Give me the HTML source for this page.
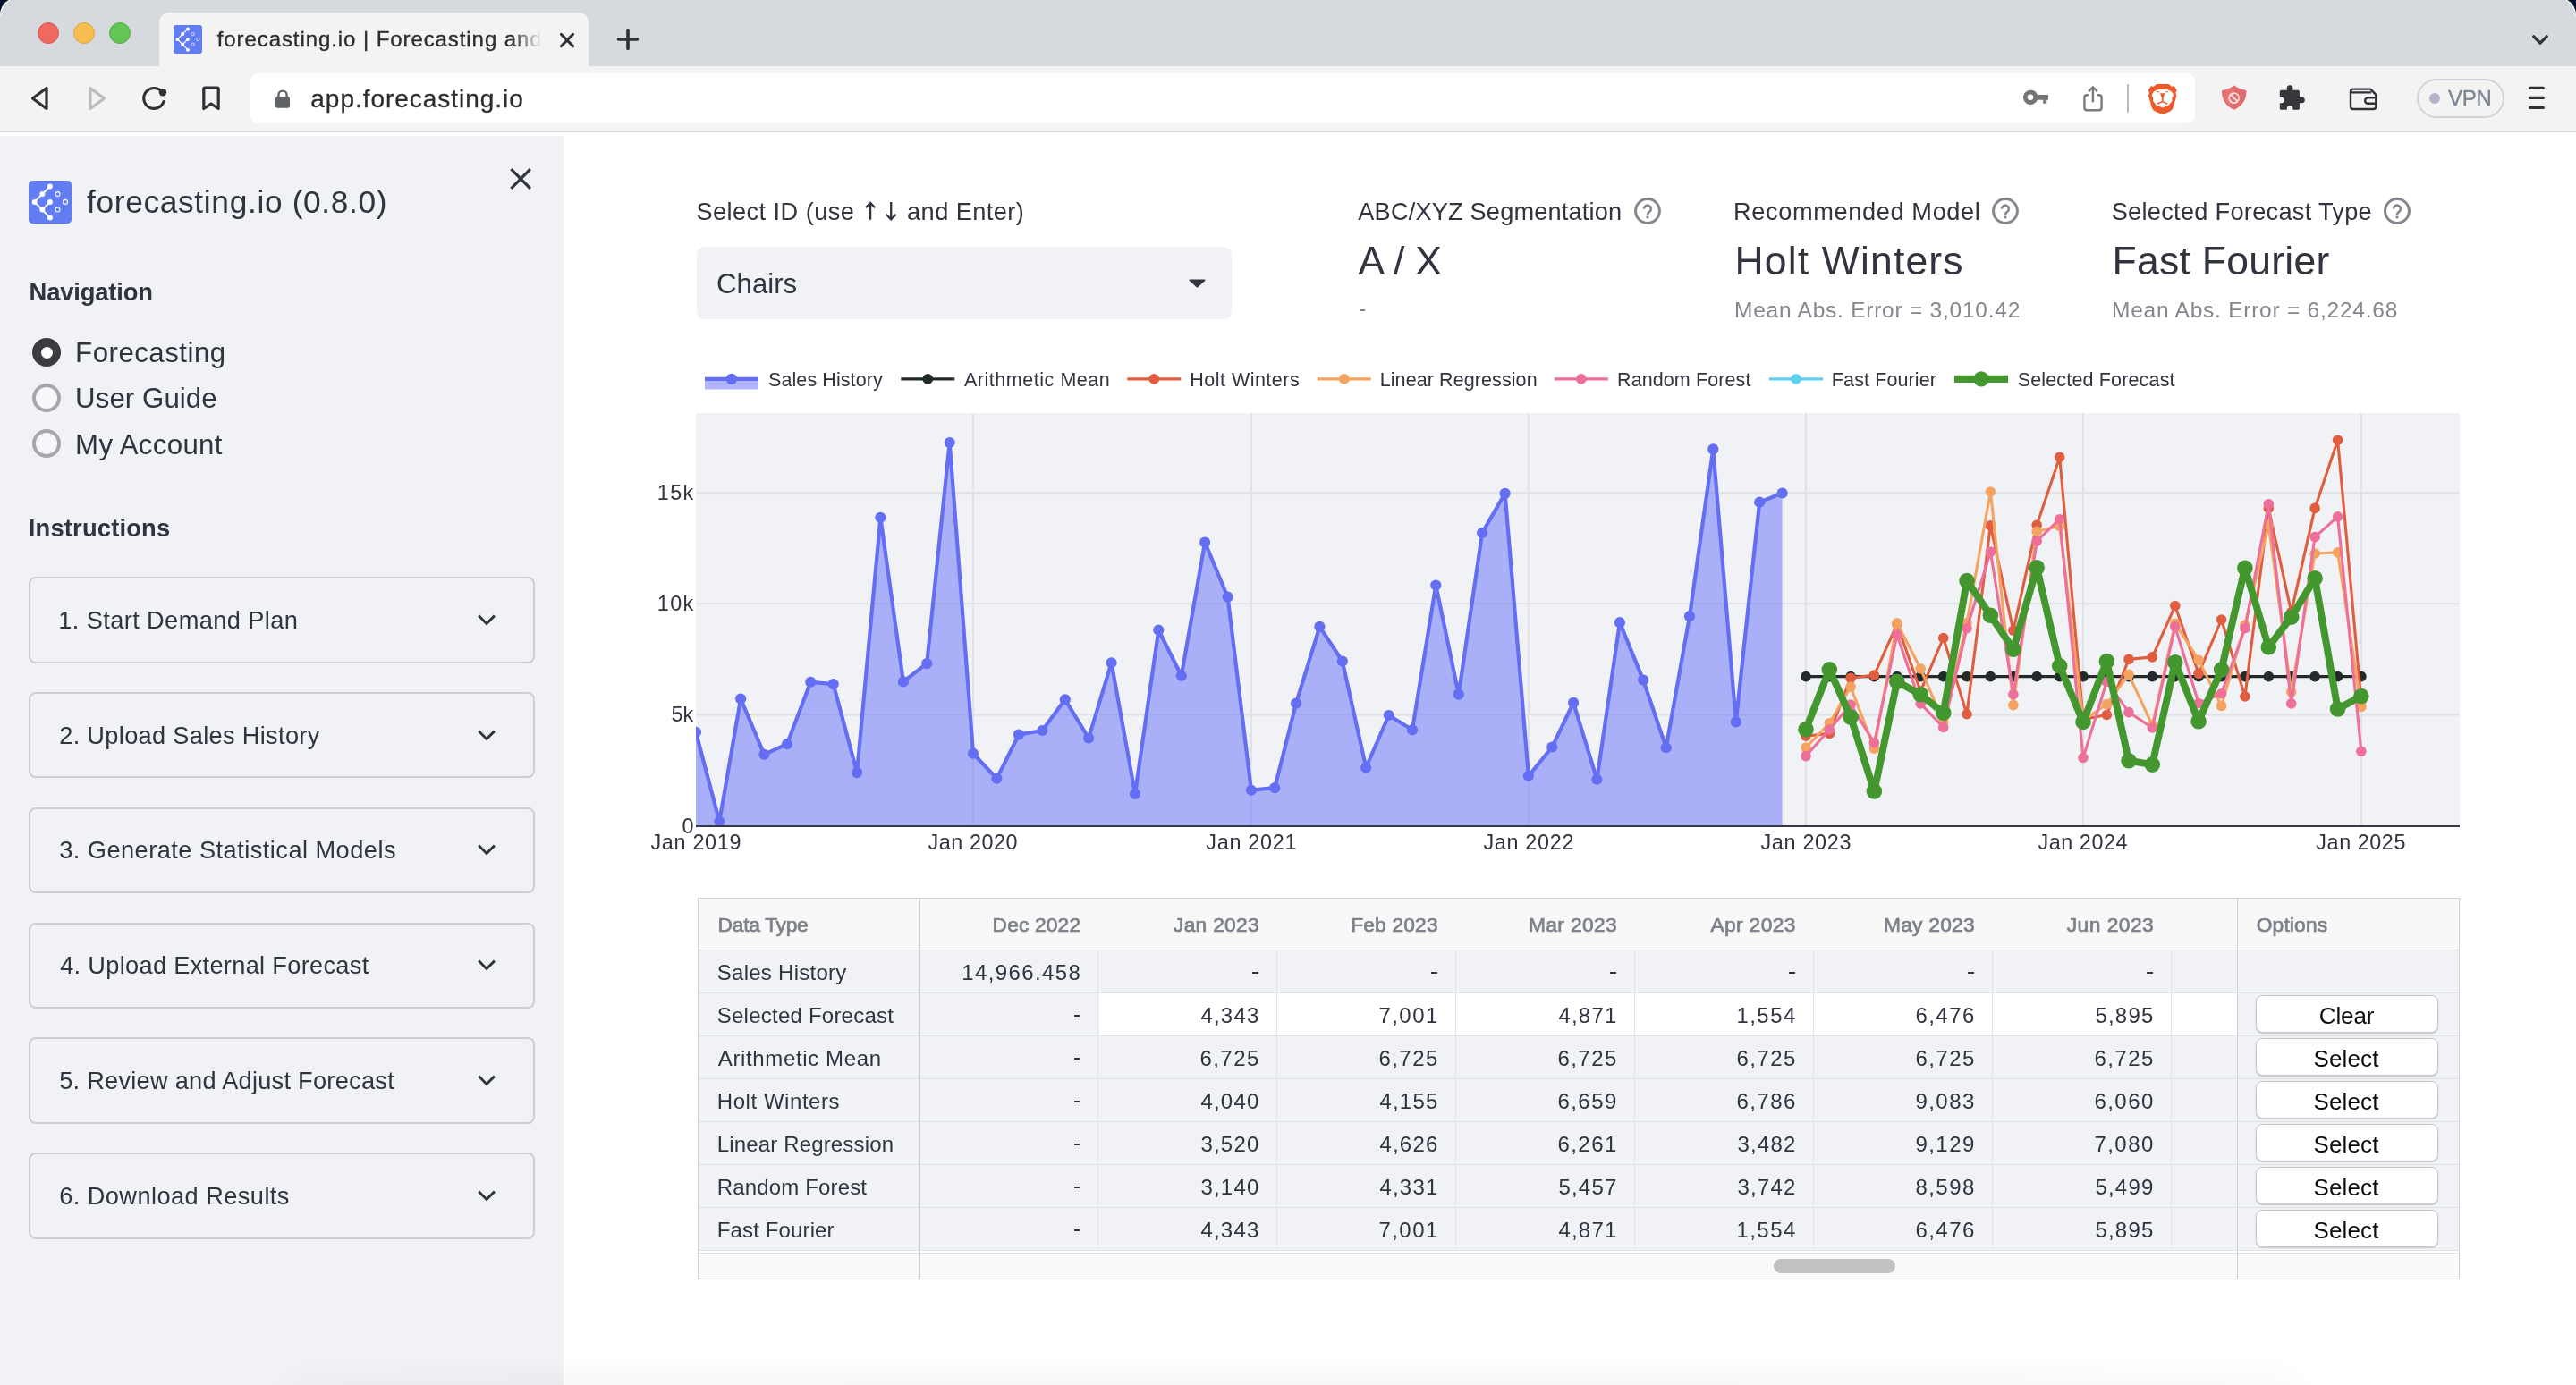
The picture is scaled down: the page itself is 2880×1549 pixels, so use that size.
<!DOCTYPE html><html><head><meta charset="utf-8"><title>forecasting.io</title><style>
*{box-sizing:border-box;margin:0;padding:0}
html,body{width:2880px;height:1549px;overflow:hidden;background:#fff}
body{position:relative;font-family:"Liberation Sans",sans-serif;color:#31333F}
.a{position:absolute}
.t{position:absolute;white-space:nowrap;line-height:1}
svg{position:absolute;overflow:visible}
</style></head><body><div class='a' style='left:0;top:0;width:2880px;height:1549px;will-change:transform'><div class="a" style="left:0;top:0;width:2880px;height:74px;background:#d6dadf"></div><svg style="left:0;top:0" width="40" height="40"><path d="M0 0H10A20 20 0 0 0 0 17.3Z" fill="#06102b"/><path d="M11 -0.3A20 20 0 0 0 0.6 18" fill="none" stroke="#f2f3f5" stroke-width="1.2"/></svg><svg style="left:2840px;top:0" width="40" height="40"><path d="M40 0H30A20 20 0 0 1 40 17.3Z" fill="#06102b"/><path d="M29 -0.3A20 20 0 0 1 39.4 18" fill="none" stroke="#f2f3f5" stroke-width="1.2"/></svg><div class="a" style="left:42px;top:25px;width:24px;height:24px;border-radius:50%;background:#ee6a5f;border:1px solid #d8554b"></div><div class="a" style="left:82px;top:25px;width:24px;height:24px;border-radius:50%;background:#f6be4f;border:1px solid #dca63c"></div><div class="a" style="left:122px;top:25px;width:24px;height:24px;border-radius:50%;background:#62c554;border:1px solid #4fae41"></div><div class="a" style="left:178px;top:14px;width:480px;height:60px;background:#f3f3f3;border-radius:11px 11px 0 0"></div><svg style="left:194px;top:28px" width="32" height="32" viewBox="0 0 48 48"><rect width="48" height="48" rx="4.5" fill="#627df2"/><path d="M23.9 6.5L6.6 23.9L23.9 41.5M15.3 32.6L23.9 23.9" fill="none" stroke="#fff" stroke-width="1.8" stroke-linecap="round" stroke-linejoin="round"/><g fill="#fff"><circle cx="23.9" cy="6.6" r="3"/><circle cx="15.4" cy="15.1" r="3"/><circle cx="6.7" cy="23.9" r="3"/><circle cx="23.9" cy="23.9" r="3"/><circle cx="15.3" cy="32.6" r="3"/><circle cx="23.9" cy="41.5" r="3"/></g><g fill="none" stroke="#fff" stroke-width="1.1"><circle cx="32.5" cy="15.1" r="2.5"/><circle cx="41" cy="23.9" r="2.5"/><circle cx="32.5" cy="32.5" r="2.5"/></g></svg><span class="t" style="left:242.70px;top:32px;font-size:24px;color:#2b2d31;letter-spacing:0.92px;-webkit-text-stroke:0.35px #2b2d31;">forecasting.io | Forecasting and</span><div class="a" style="left:572px;top:24px;width:38px;height:40px;background:linear-gradient(90deg,rgba(243,243,243,0),#f3f3f3 88%)"></div><svg style="left:624px;top:34.5px" width="20" height="20" viewBox="0 0 20 20"><path d="M3.4 3.4L16.6 16.6M16.6 3.4L3.4 16.6" stroke="#2f3136" stroke-width="2.9" stroke-linecap="round"/></svg><svg style="left:690px;top:32px" width="24" height="24" viewBox="0 0 24 24"><path d="M12 1.5V22.5M1.5 12H22.5" stroke="#2f3136" stroke-width="3.6" stroke-linecap="round"/></svg><svg style="left:2828px;top:36px" width="22" height="14" viewBox="0 0 22 14"><path d="M4.7 4.8L12 12.2L19.3 4.8" fill="none" stroke="#2f3136" stroke-width="3.3" stroke-linecap="round" stroke-linejoin="round"/></svg><div class="a" style="left:0;top:74px;width:2880px;height:72px;background:#f3f3f3"></div><div class="a" style="left:0;top:146px;width:2880px;height:2px;background:#d3d6da"></div><div class="a" style="left:280px;top:82px;width:2174px;height:56px;background:#fff;border-radius:9px"></div><svg style="left:30px;top:92px" width="30" height="36" viewBox="0 0 30 36"><path d="M22 6.5V29.5L6.5 18Z" fill="none" stroke="#2f3136" stroke-width="3.2" stroke-linejoin="round"/></svg><svg style="left:94px;top:92px" width="30" height="36" viewBox="0 0 30 36"><path d="M7 6.5V29.5L22.5 18Z" fill="none" stroke="#bcbcbc" stroke-width="3.2" stroke-linejoin="round"/></svg><svg style="left:156px;top:94px" width="32" height="32" viewBox="0 0 32 32"><path d="M24.5 8.2A11.4 11.4 0 1 0 27 19.5" fill="none" stroke="#2f3136" stroke-width="3.1" stroke-linecap="round"/><circle cx="26" cy="9.3" r="4.2" fill="#2f3136"/></svg><svg style="left:224px;top:95px" width="24" height="30" viewBox="0 0 24 30"><path d="M3.8 4.5Q3.8 3 5.3 3H18.7Q20.2 3 20.2 4.5V26.5L12 21L3.8 26.5Z" fill="none" stroke="#2f3136" stroke-width="3.2" stroke-linejoin="round"/></svg><svg style="left:306px;top:98px" width="20" height="24" viewBox="0 0 20 24"><path d="M5.4 11V8.2A4.6 4.6 0 0 1 14.6 8.2V11" fill="none" stroke="#5f6368" stroke-width="2.4"/><rect x="2" y="10" width="16" height="12.8" rx="2.2" fill="#5f6368"/></svg><span class="t" style="left:347.30px;top:97px;font-size:28px;color:#2b2d31;letter-spacing:0.97px;-webkit-text-stroke:0.3px #2b2d31;">app.forecasting.io</span><svg style="left:2240px;top:80px" width="440" height="60" viewBox="2240 80 440 60"><path d="M2270.2 100.7a8.15 8.15 0 1 0 7.6 11H2284.2V115.8H2288.2V111.7H2290V106.1H2277.9A8.15 8.15 0 0 0 2270.2 100.7ZM2270 105.5a3.3 3.3 0 1 1 0 6.6a3.3 3.3 0 0 1 0 -6.6Z" fill="#757575" fill-rule="evenodd"/><path d="M2335.6 106.2H2333.4Q2330.4 106.2 2330.4 109.2V120.2Q2330.4 123.2 2333.4 123.2H2346.6Q2349.6 123.2 2349.6 120.2V109.2Q2349.6 106.2 2346.6 106.2H2344.2M2339.9 114.3V97.6M2335.3 102.1L2339.9 97.4L2344.6 102.1" fill="none" stroke="#777a7f" stroke-width="2.4"/><rect x="2378" y="94.1" width="1.9" height="31.8" fill="#b3b6bb"/><path d="M2411.1 93.9H2424.7L2427.8 96.8L2430.9 96.3L2433.6 100.7L2432.5 103.8L2433.4 107.3L2429.3 121.3Q2428.2 123.3 2426.2 124.6L2417.7 128.2L2409.2 124.6Q2407.2 123.3 2406.1 121.3L2402 107.3L2403 103.8L2401.9 100.7L2404.7 96.3L2407.8 96.8Z" fill="#ee5b2a"/><path d="M2413 99.9H2422.7L2427.8 102.2L2430.1 106.1L2428.2 110.4L2428.6 113.1L2424.7 117.4L2417.7 120.5L2410.7 117.4L2407 113.1L2407.4 110.4L2405.7 106.1L2408 102.2Z" fill="#fff"/><path d="M2411 101.9L2414.4 102.6L2414 103.6L2410.6 102.7ZM2424.4 101.9L2421 102.6L2421.4 103.6L2424.8 102.7ZM2415 104.2H2420.6L2418.6 109.3V113.3L2424 115.6L2423 116.5L2417.7 114.6L2412.4 116.5L2411.4 115.6L2416.8 113.3V109.3ZM2412.9 116.8L2417.7 115.4L2422.7 116.8L2417.7 120.3Z" fill="#ee5b2a"/><path d="M2413 116.9L2417.7 114.8L2422.5 116.9L2417.7 120.3Z" fill="#fff"/><path d="M2497.6 95.6Q2503 99.8 2511.3 101.3C2511.7 109.5 2508.3 117.8 2497.6 122.8C2487 117.8 2483.6 109.5 2484 101.3Q2492 99.8 2497.6 95.6Z" fill="#e57373"/><path d="M2497.6 95.6Q2503 99.8 2511.3 101.3C2511.7 109.5 2508.3 117.8 2497.6 122.8Z" fill="#e06b6d"/><circle cx="2497.6" cy="109.6" r="5.5" fill="none" stroke="#f8dcdc" stroke-width="1.8"/><path d="M2493.7 105.7L2501.5 113.5" stroke="#f8dcdc" stroke-width="1.8"/><path d="M2550.3 100.7H2556.8V98.6a3.3 3.3 0 1 1 6.6 0V100.7H2569.4Q2570.9 100.7 2570.9 102.2V108.7H2573.5a3.3 3.3 0 1 1 0 6.6H2570.9V121.3Q2570.9 122.8 2569.4 122.8H2563.4V121.5a3.3 3.3 0 1 0 -6.6 0V122.8H2550.3Q2548.8 122.8 2548.8 121.3V115.3H2550.5a3.3 3.3 0 1 0 0 -6.6H2548.8V102.2Q2548.8 100.7 2550.3 100.7Z" fill="#36373b"/><path d="M2631 99.6H2650.2L2656.3 105.8V119Q2656.3 122 2653.3 122H2631Q2628 122 2628 119V102.6Q2628 99.6 2631 99.6ZM2628.6 103.4H2651.2M2656.3 109.3H2647.4a3.25 3.25 0 0 0 0 6.5H2656.3" fill="none" stroke="#2f3136" stroke-width="2.4" stroke-linejoin="round"/></svg><div class="a" style="left:2702.2px;top:88px;width:97.8px;height:43.8px;border:2px solid #d0d3d9;border-radius:22px"></div><div class="a" style="left:2715.9px;top:103.8px;width:12.2px;height:12.2px;border-radius:50%;background:#b4b3cc"></div><span class="t" style="left:2737.00px;top:98px;font-size:24px;color:#7c8591;letter-spacing:-0.31px;-webkit-text-stroke:0.3px #7c8591;">VPN</span><svg style="left:2826px;top:94px" width="22" height="32" viewBox="0 0 22 32"><path d="M2.7 4.4H17.3M2.7 15.4H17.3M2.7 26.4H17.3" stroke="#2f3136" stroke-width="3.3" stroke-linecap="round"/></svg><div class="a" style="left:0;top:152px;width:630px;height:1397px;background:#f0f2f6"></div><svg style="left:32px;top:202px" width="48" height="48" viewBox="0 0 48 48"><rect width="48" height="48" rx="4.5" fill="#627df2"/><path d="M23.9 6.5L6.6 23.9L23.9 41.5M15.3 32.6L23.9 23.9" fill="none" stroke="#fff" stroke-width="1.8" stroke-linecap="round" stroke-linejoin="round"/><g fill="#fff"><circle cx="23.9" cy="6.6" r="3"/><circle cx="15.4" cy="15.1" r="3"/><circle cx="6.7" cy="23.9" r="3"/><circle cx="23.9" cy="23.9" r="3"/><circle cx="15.3" cy="32.6" r="3"/><circle cx="23.9" cy="41.5" r="3"/></g><g fill="none" stroke="#fff" stroke-width="1.1"><circle cx="32.5" cy="15.1" r="2.5"/><circle cx="41" cy="23.9" r="2.5"/><circle cx="32.5" cy="32.5" r="2.5"/></g></svg><span class="t" style="left:97.00px;top:208px;font-size:35.3px;letter-spacing:0.66px;">forecasting.io (0.8.0)</span><svg style="left:570px;top:188px" width="24" height="24" viewBox="0 0 24 24"><path d="M1.4 1.2L22.9 22.8M22.9 1.2L1.4 22.8" stroke="#31333F" stroke-width="3.2"/></svg><span class="t" style="left:32.60px;top:313px;font-size:27.4px;font-weight:700;letter-spacing:-0.18px;">Navigation</span><div class="a" style="left:36px;top:378px;width:32px;height:32px;border-radius:50%;background:#3b3c40"></div><div class="a" style="left:45.7px;top:387.8px;width:13px;height:13px;border-radius:50%;background:#fff"></div><div class="a" style="left:36px;top:429px;width:32px;height:32px;border-radius:50%;border:4px solid #a6a7ae;background:#f8f8fb"></div><div class="a" style="left:36px;top:480px;width:32px;height:32px;border-radius:50%;border:4px solid #a6a7ae;background:#f8f8fb"></div><span class="t" style="left:84.10px;top:379px;font-size:31.2px;letter-spacing:0.51px;">Forecasting</span><span class="t" style="left:84.10px;top:430px;font-size:31.2px;letter-spacing:0.09px;">User Guide</span><span class="t" style="left:84.10px;top:482px;font-size:31.2px;letter-spacing:0.35px;">My Account</span><span class="t" style="left:31.80px;top:577px;font-size:27.4px;font-weight:700;letter-spacing:0.15px;">Instructions</span><div class="a" style="left:32px;top:645.2px;width:566px;height:96.4px;border:2px solid #cdced4;border-radius:8px"></div><span class="t" style="left:65.20px;top:680px;font-size:27.2px;letter-spacing:0.41px;">1. Start Demand Plan</span><svg style="left:534px;top:686.7px" width="20" height="14" viewBox="0 0 20 14"><path d="M1.2 1.6L10 10.5L18.9 1.6" fill="none" stroke="#31333F" stroke-width="2.9" stroke-linecap="butt" stroke-linejoin="miter"/></svg><div class="a" style="left:32px;top:774.0px;width:566px;height:96.4px;border:2px solid #cdced4;border-radius:8px"></div><span class="t" style="left:66.20px;top:809px;font-size:27.2px;letter-spacing:0.32px;">2. Upload Sales History</span><svg style="left:534px;top:815.5px" width="20" height="14" viewBox="0 0 20 14"><path d="M1.2 1.6L10 10.5L18.9 1.6" fill="none" stroke="#31333F" stroke-width="2.9" stroke-linecap="butt" stroke-linejoin="miter"/></svg><div class="a" style="left:32px;top:902.8px;width:566px;height:96.4px;border:2px solid #cdced4;border-radius:8px"></div><span class="t" style="left:66.20px;top:937px;font-size:27.2px;letter-spacing:0.47px;">3. Generate Statistical Models</span><svg style="left:534px;top:944.3px" width="20" height="14" viewBox="0 0 20 14"><path d="M1.2 1.6L10 10.5L18.9 1.6" fill="none" stroke="#31333F" stroke-width="2.9" stroke-linecap="butt" stroke-linejoin="miter"/></svg><div class="a" style="left:32px;top:1031.6px;width:566px;height:96.4px;border:2px solid #cdced4;border-radius:8px"></div><span class="t" style="left:67.20px;top:1066px;font-size:27.2px;letter-spacing:0.31px;">4. Upload External Forecast</span><svg style="left:534px;top:1073.1px" width="20" height="14" viewBox="0 0 20 14"><path d="M1.2 1.6L10 10.5L18.9 1.6" fill="none" stroke="#31333F" stroke-width="2.9" stroke-linecap="butt" stroke-linejoin="miter"/></svg><div class="a" style="left:32px;top:1160.4px;width:566px;height:96.4px;border:2px solid #cdced4;border-radius:8px"></div><span class="t" style="left:66.20px;top:1195px;font-size:27.2px;letter-spacing:0.26px;">5. Review and Adjust Forecast</span><svg style="left:534px;top:1201.9px" width="20" height="14" viewBox="0 0 20 14"><path d="M1.2 1.6L10 10.5L18.9 1.6" fill="none" stroke="#31333F" stroke-width="2.9" stroke-linecap="butt" stroke-linejoin="miter"/></svg><div class="a" style="left:32px;top:1289.2px;width:566px;height:96.4px;border:2px solid #cdced4;border-radius:8px"></div><span class="t" style="left:66.20px;top:1324px;font-size:27.2px;letter-spacing:0.44px;">6. Download Results</span><svg style="left:534px;top:1330.7px" width="20" height="14" viewBox="0 0 20 14"><path d="M1.2 1.6L10 10.5L18.9 1.6" fill="none" stroke="#31333F" stroke-width="2.9" stroke-linecap="butt" stroke-linejoin="miter"/></svg><span class="t" style="left:778.40px;top:223px;font-size:27.2px;letter-spacing:0.44px;">Select ID (use</span><span class="t" style="left:1014.10px;top:223px;font-size:27.2px;letter-spacing:0.41px;">and Enter)</span><svg style="left:960px;top:220px" width="50" height="32" viewBox="960 220 50 32"><path d="M973.1 245.8V227M967.9 232.2L973.1 227L978.3 232.2M996.2 226.1V245M990.6 239.8L996.2 245.4L1001.8 239.8" fill="none" stroke="#31333F" stroke-width="2.3"/></svg><div class="a" style="left:779px;top:276px;width:598px;height:81px;background:#f0f2f6;border-radius:8px"></div><span class="t" style="left:801.00px;top:302px;font-size:31.2px;letter-spacing:0.01px;">Chairs</span><svg style="left:1329.4px;top:312.3px" width="19" height="10" viewBox="0 0 20 11" preserveAspectRatio="none"><path d="M0.6 1.8Q0.2 0.6 1.6 0.6H18.4Q19.8 0.6 19.4 1.8L10.8 10.2Q10 10.9 9.2 10.2Z" fill="#31333F"/></svg><span class="t" style="left:1518.30px;top:223px;font-size:27.2px;letter-spacing:0.17px;">ABC/XYZ Segmentation</span><svg style="left:1825.9px;top:220.0px" width="32" height="32" viewBox="0 0 32 32"><circle cx="16" cy="16" r="13.4" fill="none" stroke="#85878e" stroke-width="3"/><path d="M12.1 13.6a3.9 3.9 0 1 1 6 3.2Q16 18.2 16 20" fill="none" stroke="#85878e" stroke-width="2.6"/><circle cx="16" cy="22.9" r="1.6" fill="#85878e"/></svg><span class="t" style="left:1518.60px;top:270px;font-size:44.5px;letter-spacing:-0.14px;">A / X</span><div class="a" style="left:1519.5px;top:346px;width:6.9px;height:2px;background:#7f8189"></div><span class="t" style="left:1938.00px;top:223px;font-size:27.2px;letter-spacing:0.62px;">Recommended Model</span><svg style="left:2226.0px;top:220.0px" width="32" height="32" viewBox="0 0 32 32"><circle cx="16" cy="16" r="13.4" fill="none" stroke="#85878e" stroke-width="3"/><path d="M12.1 13.6a3.9 3.9 0 1 1 6 3.2Q16 18.2 16 20" fill="none" stroke="#85878e" stroke-width="2.6"/><circle cx="16" cy="22.9" r="1.6" fill="#85878e"/></svg><span class="t" style="left:1939.50px;top:270px;font-size:44.5px;letter-spacing:1.16px;">Holt Winters</span><span class="t" style="left:1939.00px;top:335px;font-size:24.5px;color:#85878e;letter-spacing:0.76px;">Mean Abs. Error = 3,010.42</span><span class="t" style="left:2360.70px;top:223px;font-size:27.2px;letter-spacing:0.28px;">Selected Forecast Type</span><svg style="left:2664.0px;top:220.0px" width="32" height="32" viewBox="0 0 32 32"><circle cx="16" cy="16" r="13.4" fill="none" stroke="#85878e" stroke-width="3"/><path d="M12.1 13.6a3.9 3.9 0 1 1 6 3.2Q16 18.2 16 20" fill="none" stroke="#85878e" stroke-width="2.6"/><circle cx="16" cy="22.9" r="1.6" fill="#85878e"/></svg><span class="t" style="left:2361.50px;top:270px;font-size:44.5px;letter-spacing:0.27px;">Fast Fourier</span><span class="t" style="left:2361.00px;top:335px;font-size:24.5px;color:#85878e;letter-spacing:0.76px;">Mean Abs. Error = 6,224.68</span><svg style="left:0;top:0" width="2880" height="1000" viewBox="0 0 2880 1000"><rect x="778" y="462" width="1972" height="461.5" fill="#f0f2f6"/><g stroke="#e0e2e7" stroke-width="2.1"><line x1="1088.0" y1="462" x2="1088.0" y2="923.5"/><line x1="1398.9" y1="462" x2="1398.9" y2="923.5"/><line x1="1708.9" y1="462" x2="1708.9" y2="923.5"/><line x1="2019.0" y1="462" x2="2019.0" y2="923.5"/><line x1="2329.0" y1="462" x2="2329.0" y2="923.5"/><line x1="2639.9" y1="462" x2="2639.9" y2="923.5"/><line x1="778" y1="551.1" x2="2750" y2="551.1"/><line x1="778" y1="675.2" x2="2750" y2="675.2"/><line x1="778" y1="799.4" x2="2750" y2="799.4"/></g><clipPath id="cp"><rect x="778" y="442" width="1972" height="481.5"/></clipPath><g clip-path="url(#cp)"><polygon points="778.0,818.9 804.3,918.7 828.1,781.5 854.4,843.8 879.9,832.2 906.3,762.8 931.7,765.1 958.1,864.1 984.4,578.8 1009.9,762.4 1036.2,742.1 1061.7,495.0 1088.0,842.7 1114.4,870.7 1139.0,821.6 1165.3,817.0 1190.8,782.3 1217.1,825.5 1242.6,741.3 1269.0,887.9 1295.3,704.7 1320.8,755.8 1347.1,606.5 1372.6,667.7 1398.9,883.8 1425.2,881.1 1449.0,786.7 1475.4,700.9 1500.8,739.5 1527.2,858.5 1552.7,800.0 1579.0,816.3 1605.3,654.5 1630.8,776.6 1657.1,596.0 1682.6,551.9 1708.9,867.8 1735.3,835.5 1759.1,785.9 1785.4,871.7 1810.9,696.2 1837.2,760.6 1862.7,836.2 1889.0,689.2 1915.3,502.4 1940.8,807.4 1967.2,561.7 1992.6,551.5 1992.6,923.5 778.0,923.5" fill="#636efa" fill-opacity="0.5"/><polyline points="778.0,818.9 804.3,918.7 828.1,781.5 854.4,843.8 879.9,832.2 906.3,762.8 931.7,765.1 958.1,864.1 984.4,578.8 1009.9,762.4 1036.2,742.1 1061.7,495.0 1088.0,842.7 1114.4,870.7 1139.0,821.6 1165.3,817.0 1190.8,782.3 1217.1,825.5 1242.6,741.3 1269.0,887.9 1295.3,704.7 1320.8,755.8 1347.1,606.5 1372.6,667.7 1398.9,883.8 1425.2,881.1 1449.0,786.7 1475.4,700.9 1500.8,739.5 1527.2,858.5 1552.7,800.0 1579.0,816.3 1605.3,654.5 1630.8,776.6 1657.1,596.0 1682.6,551.9 1708.9,867.8 1735.3,835.5 1759.1,785.9 1785.4,871.7 1810.9,696.2 1837.2,760.6 1862.7,836.2 1889.0,689.2 1915.3,502.4 1940.8,807.4 1967.2,561.7 1992.6,551.5" fill="none" stroke="#646ef3" stroke-width="4.2" stroke-linejoin="round"/><g fill="#646ef3"><circle cx="778.0" cy="818.9" r="6.1"/><circle cx="804.3" cy="918.7" r="6.1"/><circle cx="828.1" cy="781.5" r="6.1"/><circle cx="854.4" cy="843.8" r="6.1"/><circle cx="879.9" cy="832.2" r="6.1"/><circle cx="906.3" cy="762.8" r="6.1"/><circle cx="931.7" cy="765.1" r="6.1"/><circle cx="958.1" cy="864.1" r="6.1"/><circle cx="984.4" cy="578.8" r="6.1"/><circle cx="1009.9" cy="762.4" r="6.1"/><circle cx="1036.2" cy="742.1" r="6.1"/><circle cx="1061.7" cy="495.0" r="6.1"/><circle cx="1088.0" cy="842.7" r="6.1"/><circle cx="1114.4" cy="870.7" r="6.1"/><circle cx="1139.0" cy="821.6" r="6.1"/><circle cx="1165.3" cy="817.0" r="6.1"/><circle cx="1190.8" cy="782.3" r="6.1"/><circle cx="1217.1" cy="825.5" r="6.1"/><circle cx="1242.6" cy="741.3" r="6.1"/><circle cx="1269.0" cy="887.9" r="6.1"/><circle cx="1295.3" cy="704.7" r="6.1"/><circle cx="1320.8" cy="755.8" r="6.1"/><circle cx="1347.1" cy="606.5" r="6.1"/><circle cx="1372.6" cy="667.7" r="6.1"/><circle cx="1398.9" cy="883.8" r="6.1"/><circle cx="1425.2" cy="881.1" r="6.1"/><circle cx="1449.0" cy="786.7" r="6.1"/><circle cx="1475.4" cy="700.9" r="6.1"/><circle cx="1500.8" cy="739.5" r="6.1"/><circle cx="1527.2" cy="858.5" r="6.1"/><circle cx="1552.7" cy="800.0" r="6.1"/><circle cx="1579.0" cy="816.3" r="6.1"/><circle cx="1605.3" cy="654.5" r="6.1"/><circle cx="1630.8" cy="776.6" r="6.1"/><circle cx="1657.1" cy="596.0" r="6.1"/><circle cx="1682.6" cy="551.9" r="6.1"/><circle cx="1708.9" cy="867.8" r="6.1"/><circle cx="1735.3" cy="835.5" r="6.1"/><circle cx="1759.1" cy="785.9" r="6.1"/><circle cx="1785.4" cy="871.7" r="6.1"/><circle cx="1810.9" cy="696.2" r="6.1"/><circle cx="1837.2" cy="760.6" r="6.1"/><circle cx="1862.7" cy="836.2" r="6.1"/><circle cx="1889.0" cy="689.2" r="6.1"/><circle cx="1915.3" cy="502.4" r="6.1"/><circle cx="1940.8" cy="807.4" r="6.1"/><circle cx="1967.2" cy="561.7" r="6.1"/><circle cx="1992.6" cy="551.5" r="6.1"/></g><polyline points="2019.0,756.6 2045.3,756.6 2069.1,756.6 2095.4,756.6 2120.9,756.6 2147.2,756.6 2172.7,756.6 2199.0,756.6 2225.4,756.6 2250.9,756.6 2277.2,756.6 2302.7,756.6 2329.0,756.6 2355.3,756.6 2380.0,756.6 2406.3,756.6 2431.8,756.6 2458.1,756.6 2483.6,756.6 2509.9,756.6 2536.3,756.6 2561.7,756.6 2588.1,756.6 2613.6,756.6 2639.9,756.6" fill="none" stroke="#222a2a" stroke-width="3.1" stroke-linejoin="round"/><g fill="#222a2a"><circle cx="2019.0" cy="756.6" r="5.8"/><circle cx="2045.3" cy="756.6" r="5.8"/><circle cx="2069.1" cy="756.6" r="5.8"/><circle cx="2095.4" cy="756.6" r="5.8"/><circle cx="2120.9" cy="756.6" r="5.8"/><circle cx="2147.2" cy="756.6" r="5.8"/><circle cx="2172.7" cy="756.6" r="5.8"/><circle cx="2199.0" cy="756.6" r="5.8"/><circle cx="2225.4" cy="756.6" r="5.8"/><circle cx="2250.9" cy="756.6" r="5.8"/><circle cx="2277.2" cy="756.6" r="5.8"/><circle cx="2302.7" cy="756.6" r="5.8"/><circle cx="2329.0" cy="756.6" r="5.8"/><circle cx="2355.3" cy="756.6" r="5.8"/><circle cx="2380.0" cy="756.6" r="5.8"/><circle cx="2406.3" cy="756.6" r="5.8"/><circle cx="2431.8" cy="756.6" r="5.8"/><circle cx="2458.1" cy="756.6" r="5.8"/><circle cx="2483.6" cy="756.6" r="5.8"/><circle cx="2509.9" cy="756.6" r="5.8"/><circle cx="2536.3" cy="756.6" r="5.8"/><circle cx="2561.7" cy="756.6" r="5.8"/><circle cx="2588.1" cy="756.6" r="5.8"/><circle cx="2613.6" cy="756.6" r="5.8"/><circle cx="2639.9" cy="756.6" r="5.8"/></g><polyline points="2019.0,823.2 2045.3,820.4 2069.1,758.2 2095.4,755.1 2120.9,698.1 2147.2,773.1 2172.7,713.5 2199.0,798.7 2225.4,587.9 2250.9,705.2 2277.2,587.2 2302.7,511.4 2329.0,804.5 2355.3,799.5 2380.0,737.4 2406.3,734.9 2431.8,677.5 2458.1,753.3 2483.6,693.0 2509.9,778.9 2536.3,568.4 2561.7,684.7 2588.1,568.4 2613.6,492.2 2639.9,784.0" fill="none" stroke="#e05e3f" stroke-width="3.1" stroke-linejoin="round"/><g fill="#e05e3f"><circle cx="2019.0" cy="823.2" r="5.8"/><circle cx="2045.3" cy="820.4" r="5.8"/><circle cx="2069.1" cy="758.2" r="5.8"/><circle cx="2095.4" cy="755.1" r="5.8"/><circle cx="2120.9" cy="698.1" r="5.8"/><circle cx="2147.2" cy="773.1" r="5.8"/><circle cx="2172.7" cy="713.5" r="5.8"/><circle cx="2199.0" cy="798.7" r="5.8"/><circle cx="2225.4" cy="587.9" r="5.8"/><circle cx="2250.9" cy="705.2" r="5.8"/><circle cx="2277.2" cy="587.2" r="5.8"/><circle cx="2302.7" cy="511.4" r="5.8"/><circle cx="2329.0" cy="804.5" r="5.8"/><circle cx="2355.3" cy="799.5" r="5.8"/><circle cx="2380.0" cy="737.4" r="5.8"/><circle cx="2406.3" cy="734.9" r="5.8"/><circle cx="2431.8" cy="677.5" r="5.8"/><circle cx="2458.1" cy="753.3" r="5.8"/><circle cx="2483.6" cy="693.0" r="5.8"/><circle cx="2509.9" cy="778.9" r="5.8"/><circle cx="2536.3" cy="568.4" r="5.8"/><circle cx="2561.7" cy="684.7" r="5.8"/><circle cx="2588.1" cy="568.4" r="5.8"/><circle cx="2613.6" cy="492.2" r="5.8"/><circle cx="2639.9" cy="784.0" r="5.8"/></g><polyline points="2019.0,836.1 2045.3,808.7 2069.1,768.1 2095.4,837.1 2120.9,696.9 2147.2,747.8 2172.7,807.0 2199.0,696.6 2225.4,550.0 2250.9,788.6 2277.2,594.4 2302.7,588.3 2329.0,806.0 2355.3,787.6 2380.0,754.4 2406.3,811.0 2431.8,697.3 2458.1,738.1 2483.6,789.4 2509.9,699.1 2536.3,587.2 2561.7,773.9 2588.1,619.0 2613.6,617.9 2639.9,790.5" fill="none" stroke="#f4a460" stroke-width="3.1" stroke-linejoin="round"/><g fill="#f4a460"><circle cx="2019.0" cy="836.1" r="5.8"/><circle cx="2045.3" cy="808.7" r="5.8"/><circle cx="2069.1" cy="768.1" r="5.8"/><circle cx="2095.4" cy="837.1" r="5.8"/><circle cx="2120.9" cy="696.9" r="5.8"/><circle cx="2147.2" cy="747.8" r="5.8"/><circle cx="2172.7" cy="807.0" r="5.8"/><circle cx="2199.0" cy="696.6" r="5.8"/><circle cx="2225.4" cy="550.0" r="5.8"/><circle cx="2250.9" cy="788.6" r="5.8"/><circle cx="2277.2" cy="594.4" r="5.8"/><circle cx="2302.7" cy="588.3" r="5.8"/><circle cx="2329.0" cy="806.0" r="5.8"/><circle cx="2355.3" cy="787.6" r="5.8"/><circle cx="2380.0" cy="754.4" r="5.8"/><circle cx="2406.3" cy="811.0" r="5.8"/><circle cx="2431.8" cy="697.3" r="5.8"/><circle cx="2458.1" cy="738.1" r="5.8"/><circle cx="2483.6" cy="789.4" r="5.8"/><circle cx="2509.9" cy="699.1" r="5.8"/><circle cx="2536.3" cy="587.2" r="5.8"/><circle cx="2561.7" cy="773.9" r="5.8"/><circle cx="2588.1" cy="619.0" r="5.8"/><circle cx="2613.6" cy="617.9" r="5.8"/><circle cx="2639.9" cy="790.5" r="5.8"/></g><polyline points="2019.0,845.6 2045.3,816.0 2069.1,788.1 2095.4,830.6 2120.9,710.1 2147.2,787.0 2172.7,813.5 2199.0,702.7 2225.4,617.1 2250.9,776.7 2277.2,605.2 2302.7,580.7 2329.0,847.5 2355.3,762.3 2380.0,796.6 2406.3,814.0 2431.8,700.9 2458.1,786.5 2483.6,775.7 2509.9,702.7 2536.3,563.7 2561.7,786.9 2588.1,600.6 2613.6,577.8 2639.9,840.3" fill="none" stroke="#ee6f98" stroke-width="3.1" stroke-linejoin="round"/><g fill="#ee6f98"><circle cx="2019.0" cy="845.6" r="5.8"/><circle cx="2045.3" cy="816.0" r="5.8"/><circle cx="2069.1" cy="788.1" r="5.8"/><circle cx="2095.4" cy="830.6" r="5.8"/><circle cx="2120.9" cy="710.1" r="5.8"/><circle cx="2147.2" cy="787.0" r="5.8"/><circle cx="2172.7" cy="813.5" r="5.8"/><circle cx="2199.0" cy="702.7" r="5.8"/><circle cx="2225.4" cy="617.1" r="5.8"/><circle cx="2250.9" cy="776.7" r="5.8"/><circle cx="2277.2" cy="605.2" r="5.8"/><circle cx="2302.7" cy="580.7" r="5.8"/><circle cx="2329.0" cy="847.5" r="5.8"/><circle cx="2355.3" cy="762.3" r="5.8"/><circle cx="2380.0" cy="796.6" r="5.8"/><circle cx="2406.3" cy="814.0" r="5.8"/><circle cx="2431.8" cy="700.9" r="5.8"/><circle cx="2458.1" cy="786.5" r="5.8"/><circle cx="2483.6" cy="775.7" r="5.8"/><circle cx="2509.9" cy="702.7" r="5.8"/><circle cx="2536.3" cy="563.7" r="5.8"/><circle cx="2561.7" cy="786.9" r="5.8"/><circle cx="2588.1" cy="600.6" r="5.8"/><circle cx="2613.6" cy="577.8" r="5.8"/><circle cx="2639.9" cy="840.3" r="5.8"/></g><polyline points="2019.0,815.7 2045.3,748.9 2069.1,802.0 2095.4,885.0 2120.9,762.3 2147.2,776.7 2172.7,797.3 2199.0,649.6 2225.4,688.3 2250.9,726.2 2277.2,634.8 2302.7,744.9 2329.0,807.4 2355.3,739.6 2380.0,850.8 2406.3,855.1 2431.8,740.7 2458.1,806.7 2483.6,749.0 2509.9,635.2 2536.3,723.7 2561.7,690.1 2588.1,646.8 2613.6,793.0 2639.9,778.6" fill="none" stroke="#5fd0f0" stroke-width="3.1" stroke-linejoin="round"/><g fill="#5fd0f0"><circle cx="2019.0" cy="815.7" r="5.8"/><circle cx="2045.3" cy="748.9" r="5.8"/><circle cx="2069.1" cy="802.0" r="5.8"/><circle cx="2095.4" cy="885.0" r="5.8"/><circle cx="2120.9" cy="762.3" r="5.8"/><circle cx="2147.2" cy="776.7" r="5.8"/><circle cx="2172.7" cy="797.3" r="5.8"/><circle cx="2199.0" cy="649.6" r="5.8"/><circle cx="2225.4" cy="688.3" r="5.8"/><circle cx="2250.9" cy="726.2" r="5.8"/><circle cx="2277.2" cy="634.8" r="5.8"/><circle cx="2302.7" cy="744.9" r="5.8"/><circle cx="2329.0" cy="807.4" r="5.8"/><circle cx="2355.3" cy="739.6" r="5.8"/><circle cx="2380.0" cy="850.8" r="5.8"/><circle cx="2406.3" cy="855.1" r="5.8"/><circle cx="2431.8" cy="740.7" r="5.8"/><circle cx="2458.1" cy="806.7" r="5.8"/><circle cx="2483.6" cy="749.0" r="5.8"/><circle cx="2509.9" cy="635.2" r="5.8"/><circle cx="2536.3" cy="723.7" r="5.8"/><circle cx="2561.7" cy="690.1" r="5.8"/><circle cx="2588.1" cy="646.8" r="5.8"/><circle cx="2613.6" cy="793.0" r="5.8"/><circle cx="2639.9" cy="778.6" r="5.8"/></g><polyline points="2019.0,815.7 2045.3,748.9 2069.1,802.0 2095.4,885.0 2120.9,762.3 2147.2,776.7 2172.7,797.3 2199.0,649.6 2225.4,688.3 2250.9,726.2 2277.2,634.8 2302.7,744.9 2329.0,807.4 2355.3,739.6 2380.0,850.8 2406.3,855.1 2431.8,740.7 2458.1,806.7 2483.6,749.0 2509.9,635.2 2536.3,723.7 2561.7,690.1 2588.1,646.8 2613.6,793.0 2639.9,778.6" fill="none" stroke="#44962f" stroke-width="8" stroke-linejoin="round"/><g fill="#44962f"><circle cx="2019.0" cy="815.7" r="8.8"/><circle cx="2045.3" cy="748.9" r="8.8"/><circle cx="2069.1" cy="802.0" r="8.8"/><circle cx="2095.4" cy="885.0" r="8.8"/><circle cx="2120.9" cy="762.3" r="8.8"/><circle cx="2147.2" cy="776.7" r="8.8"/><circle cx="2172.7" cy="797.3" r="8.8"/><circle cx="2199.0" cy="649.6" r="8.8"/><circle cx="2225.4" cy="688.3" r="8.8"/><circle cx="2250.9" cy="726.2" r="8.8"/><circle cx="2277.2" cy="634.8" r="8.8"/><circle cx="2302.7" cy="744.9" r="8.8"/><circle cx="2329.0" cy="807.4" r="8.8"/><circle cx="2355.3" cy="739.6" r="8.8"/><circle cx="2380.0" cy="850.8" r="8.8"/><circle cx="2406.3" cy="855.1" r="8.8"/><circle cx="2431.8" cy="740.7" r="8.8"/><circle cx="2458.1" cy="806.7" r="8.8"/><circle cx="2483.6" cy="749.0" r="8.8"/><circle cx="2509.9" cy="635.2" r="8.8"/><circle cx="2536.3" cy="723.7" r="8.8"/><circle cx="2561.7" cy="690.1" r="8.8"/><circle cx="2588.1" cy="646.8" r="8.8"/><circle cx="2613.6" cy="793.0" r="8.8"/><circle cx="2639.9" cy="778.6" r="8.8"/></g></g><line x1="778" y1="924.0" x2="2750" y2="924.0" stroke="#363846" stroke-width="1.8"/><rect x="788" y="423.9" width="60" height="11.6" fill="#636efa" fill-opacity="0.5"/><line x1="788" y1="423.9" x2="848" y2="423.9" stroke="#646ef3" stroke-width="4.1"/><circle cx="818" cy="423.9" r="6.2" fill="#646ef3"/><line x1="1007.3" y1="423.9" x2="1067.3" y2="423.9" stroke="#222a2a" stroke-width="3.1"/><circle cx="1037.3" cy="423.9" r="5.9" fill="#222a2a"/><line x1="1260.3" y1="423.9" x2="1320.3" y2="423.9" stroke="#e05e3f" stroke-width="3.1"/><circle cx="1290.3" cy="423.9" r="5.9" fill="#e05e3f"/><line x1="1472.8" y1="423.9" x2="1532.8" y2="423.9" stroke="#f4a460" stroke-width="3.1"/><circle cx="1502.8" cy="423.9" r="5.9" fill="#f4a460"/><line x1="1737.8" y1="423.9" x2="1797.8" y2="423.9" stroke="#ee6f98" stroke-width="3.1"/><circle cx="1767.8" cy="423.9" r="5.9" fill="#ee6f98"/><line x1="1978" y1="423.9" x2="2038" y2="423.9" stroke="#5fd0f0" stroke-width="3.1"/><circle cx="2008" cy="423.9" r="5.9" fill="#5fd0f0"/><line x1="2185" y1="423.9" x2="2245" y2="423.9" stroke="#44962f" stroke-width="8.2"/><circle cx="2215" cy="423.9" r="8.6" fill="#44962f"/></svg><span class="t" style="left:859.00px;top:415px;font-size:21.5px;letter-spacing:0.09px;">Sales History</span><span class="t" style="left:1078.00px;top:415px;font-size:21.5px;letter-spacing:0.53px;">Arithmetic Mean</span><span class="t" style="left:1330.30px;top:415px;font-size:21.5px;letter-spacing:0.48px;">Holt Winters</span><span class="t" style="left:1542.70px;top:415px;font-size:21.5px;letter-spacing:0.09px;">Linear Regression</span><span class="t" style="left:1808.00px;top:415px;font-size:21.5px;letter-spacing:0.10px;">Random Forest</span><span class="t" style="left:2047.80px;top:415px;font-size:21.5px;letter-spacing:0.12px;">Fast Fourier</span><span class="t" style="left:2255.70px;top:415px;font-size:21.5px;letter-spacing:0.16px;">Selected Forecast</span><span class="t" style="left:734.80px;top:540px;font-size:23.4px;letter-spacing:1.39px;">15k</span><span class="t" style="left:734.80px;top:664px;font-size:23.4px;letter-spacing:1.39px;">10k</span><span class="t" style="left:750.60px;top:788px;font-size:23.4px;letter-spacing:-0.01px;">5k</span><span class="t" style="left:762.60px;top:913px;font-size:23.4px;">0</span><span class="t" style="left:727.45px;top:931px;font-size:23.4px;letter-spacing:0.69px;">Jan 2019</span><span class="t" style="left:1037.48px;top:931px;font-size:23.4px;letter-spacing:0.55px;">Jan 2020</span><span class="t" style="left:1348.36px;top:931px;font-size:23.4px;letter-spacing:0.69px;">Jan 2021</span><span class="t" style="left:1658.39px;top:931px;font-size:23.4px;letter-spacing:0.69px;">Jan 2022</span><span class="t" style="left:1968.42px;top:931px;font-size:23.4px;letter-spacing:0.69px;">Jan 2023</span><span class="t" style="left:2278.45px;top:931px;font-size:23.4px;letter-spacing:0.55px;">Jan 2024</span><span class="t" style="left:2589.33px;top:931px;font-size:23.4px;letter-spacing:0.55px;">Jan 2025</span><div class="a" style="left:780px;top:1004px;width:1970px;height:427px;background:#f0f2f6;border:1px solid #cfd0d4"></div><div class="a" style="left:781px;top:1005px;width:1968px;height:58.0px;background:#f8f8f8;border-bottom:1px solid #d6d7db"></div><div class="a" style="left:1228.8px;top:1111.4px;width:1272.2px;height:46.4px;background:#fff"></div><div class="a" style="left:1227.1px;top:1064.0px;width:1.4px;height:332.7px;background:#e4e5ea"></div><div class="a" style="left:1427.1px;top:1064.0px;width:1.4px;height:332.7px;background:#e4e5ea"></div><div class="a" style="left:1627.1px;top:1064.0px;width:1.4px;height:332.7px;background:#e4e5ea"></div><div class="a" style="left:1827.1px;top:1064.0px;width:1.4px;height:332.7px;background:#e4e5ea"></div><div class="a" style="left:2027.1px;top:1064.0px;width:1.4px;height:332.7px;background:#e4e5ea"></div><div class="a" style="left:2227.1px;top:1064.0px;width:1.4px;height:332.7px;background:#e4e5ea"></div><div class="a" style="left:2427.1px;top:1064.0px;width:1.4px;height:332.7px;background:#e4e5ea"></div><div class="a" style="left:781px;top:1399px;width:1968px;height:2px;background:#fff"></div><div class="a" style="left:781px;top:1401px;width:1968px;height:29px;background:#fafafa;border-top:1px solid #dfe0e3"></div><div class="a" style="left:1983px;top:1408px;width:136px;height:16px;border-radius:8px;background:#c1c1c1"></div><div class="a" style="left:1028px;top:1005px;width:1px;height:425px;background:#cfd0d4"></div><div class="a" style="left:2501px;top:1005px;width:1px;height:425px;background:#cfd0d4"></div><div class="a" style="left:781px;top:1110.0px;width:1968px;height:1.2px;background:#dce1ea"></div><div class="a" style="left:781px;top:1157.9px;width:1968px;height:1.2px;background:#dce1ea"></div><div class="a" style="left:781px;top:1205.8px;width:1968px;height:1.2px;background:#dce1ea"></div><div class="a" style="left:781px;top:1253.8px;width:1968px;height:1.2px;background:#dce1ea"></div><div class="a" style="left:781px;top:1301.8px;width:1968px;height:1.2px;background:#dce1ea"></div><div class="a" style="left:781px;top:1349.7px;width:1968px;height:1.2px;background:#dce1ea"></div><div class="a" style="left:781px;top:1397.7px;width:1968px;height:1.2px;background:#dce1ea"></div><span class="t" style="left:802.60px;top:1023px;font-size:22.8px;color:#7c8089;letter-spacing:-0.30px;-webkit-text-stroke:0.7px #7c8089;">Data Type</span><span class="t" style="left:1109.60px;top:1023px;font-size:22.8px;color:#7c8089;letter-spacing:0.13px;-webkit-text-stroke:0.7px #7c8089;">Dec 2022</span><span class="t" style="left:1312.00px;top:1023px;font-size:22.8px;color:#7c8089;letter-spacing:0.27px;-webkit-text-stroke:0.7px #7c8089;">Jan 2023</span><span class="t" style="left:1510.20px;top:1023px;font-size:22.8px;color:#7c8089;letter-spacing:0.16px;-webkit-text-stroke:0.7px #7c8089;">Feb 2023</span><span class="t" style="left:1709.00px;top:1023px;font-size:22.8px;color:#7c8089;letter-spacing:0.34px;-webkit-text-stroke:0.7px #7c8089;">Mar 2023</span><span class="t" style="left:1912.40px;top:1023px;font-size:22.8px;color:#7c8089;letter-spacing:0.35px;-webkit-text-stroke:0.7px #7c8089;">Apr 2023</span><span class="t" style="left:2106.00px;top:1023px;font-size:22.8px;color:#7c8089;letter-spacing:0.22px;-webkit-text-stroke:0.7px #7c8089;">May 2023</span><span class="t" style="left:2310.70px;top:1023px;font-size:22.8px;color:#7c8089;letter-spacing:0.47px;-webkit-text-stroke:0.7px #7c8089;">Jun 2023</span><span class="t" style="left:2522.70px;top:1023px;font-size:22.8px;color:#7c8089;letter-spacing:0.14px;-webkit-text-stroke:0.7px #7c8089;">Options</span><span class="t" style="left:801.80px;top:1076px;font-size:24px;letter-spacing:0.26px;">Sales History</span><span class="t" style="left:1075.20px;top:1076px;font-size:24px;letter-spacing:1.40px;">14,966.458</span><div class="a" style="left:1400.0px;top:1087.3px;width:6.9px;height:2.2px;background:#31333F"></div><div class="a" style="left:1600.0px;top:1087.3px;width:6.9px;height:2.2px;background:#31333F"></div><div class="a" style="left:1800.0px;top:1087.3px;width:6.9px;height:2.2px;background:#31333F"></div><div class="a" style="left:2000.0px;top:1087.3px;width:6.9px;height:2.2px;background:#31333F"></div><div class="a" style="left:2200.0px;top:1087.3px;width:6.9px;height:2.2px;background:#31333F"></div><div class="a" style="left:2400.0px;top:1087.3px;width:6.9px;height:2.2px;background:#31333F"></div><span class="t" style="left:801.80px;top:1124px;font-size:24px;letter-spacing:0.23px;">Selected Forecast</span><div class="a" style="left:1200.6px;top:1135.3px;width:6.9px;height:2.2px;background:#31333F"></div><span class="t" style="left:1342.40px;top:1124px;font-size:24px;letter-spacing:1.22px;">4,343</span><span class="t" style="left:1541.40px;top:1124px;font-size:24px;letter-spacing:1.47px;">7,001</span><span class="t" style="left:1742.40px;top:1124px;font-size:24px;letter-spacing:1.22px;">4,871</span><span class="t" style="left:1941.40px;top:1124px;font-size:24px;letter-spacing:1.47px;">1,554</span><span class="t" style="left:2141.40px;top:1124px;font-size:24px;letter-spacing:1.47px;">6,476</span><span class="t" style="left:2342.40px;top:1124px;font-size:24px;letter-spacing:1.22px;">5,895</span><div class="a" style="left:2521.7px;top:1113.2px;width:204.7px;height:42.2px;background:#fff;border:1.8px solid #c3c4c8;border-radius:7.5px;box-shadow:0 1px 1.5px rgba(0,0,0,0.18)"></div><span class="t" style="left:2592.80px;top:1123px;font-size:26px;color:#0e0e10;letter-spacing:-0.12px;">Clear</span><span class="t" style="left:802.80px;top:1172px;font-size:24px;letter-spacing:0.63px;">Arithmetic Mean</span><div class="a" style="left:1200.6px;top:1183.3px;width:6.9px;height:2.2px;background:#31333F"></div><span class="t" style="left:1341.40px;top:1172px;font-size:24px;letter-spacing:1.47px;">6,725</span><span class="t" style="left:1541.40px;top:1172px;font-size:24px;letter-spacing:1.47px;">6,725</span><span class="t" style="left:1741.40px;top:1172px;font-size:24px;letter-spacing:1.47px;">6,725</span><span class="t" style="left:1941.40px;top:1172px;font-size:24px;letter-spacing:1.47px;">6,725</span><span class="t" style="left:2141.40px;top:1172px;font-size:24px;letter-spacing:1.47px;">6,725</span><span class="t" style="left:2341.40px;top:1172px;font-size:24px;letter-spacing:1.47px;">6,725</span><div class="a" style="left:2521.7px;top:1161.1px;width:204.7px;height:42.2px;background:#fff;border:1.8px solid #c3c4c8;border-radius:7.5px;box-shadow:0 1px 1.5px rgba(0,0,0,0.18)"></div><span class="t" style="left:2586.60px;top:1171px;font-size:26px;color:#0e0e10;letter-spacing:0.11px;">Select</span><span class="t" style="left:801.80px;top:1220px;font-size:24px;letter-spacing:0.55px;">Holt Winters</span><div class="a" style="left:1200.6px;top:1231.3px;width:6.9px;height:2.2px;background:#31333F"></div><span class="t" style="left:1342.40px;top:1220px;font-size:24px;letter-spacing:1.22px;">4,040</span><span class="t" style="left:1542.40px;top:1220px;font-size:24px;letter-spacing:1.22px;">4,155</span><span class="t" style="left:1741.40px;top:1220px;font-size:24px;letter-spacing:1.47px;">6,659</span><span class="t" style="left:1941.40px;top:1220px;font-size:24px;letter-spacing:1.47px;">6,786</span><span class="t" style="left:2141.40px;top:1220px;font-size:24px;letter-spacing:1.47px;">9,083</span><span class="t" style="left:2341.40px;top:1220px;font-size:24px;letter-spacing:1.47px;">6,060</span><div class="a" style="left:2521.7px;top:1209.0px;width:204.7px;height:42.2px;background:#fff;border:1.8px solid #c3c4c8;border-radius:7.5px;box-shadow:0 1px 1.5px rgba(0,0,0,0.18)"></div><span class="t" style="left:2586.60px;top:1219px;font-size:26px;color:#0e0e10;letter-spacing:0.11px;">Select</span><span class="t" style="left:801.80px;top:1268px;font-size:24px;letter-spacing:0.15px;">Linear Regression</span><div class="a" style="left:1200.6px;top:1279.3px;width:6.9px;height:2.2px;background:#31333F"></div><span class="t" style="left:1342.40px;top:1268px;font-size:24px;letter-spacing:1.22px;">3,520</span><span class="t" style="left:1542.40px;top:1268px;font-size:24px;letter-spacing:1.22px;">4,626</span><span class="t" style="left:1741.40px;top:1268px;font-size:24px;letter-spacing:1.47px;">6,261</span><span class="t" style="left:1942.40px;top:1268px;font-size:24px;letter-spacing:1.22px;">3,482</span><span class="t" style="left:2141.40px;top:1268px;font-size:24px;letter-spacing:1.47px;">9,129</span><span class="t" style="left:2341.40px;top:1268px;font-size:24px;letter-spacing:1.47px;">7,080</span><div class="a" style="left:2521.7px;top:1257.0px;width:204.7px;height:42.2px;background:#fff;border:1.8px solid #c3c4c8;border-radius:7.5px;box-shadow:0 1px 1.5px rgba(0,0,0,0.18)"></div><span class="t" style="left:2586.60px;top:1267px;font-size:26px;color:#0e0e10;letter-spacing:0.11px;">Select</span><span class="t" style="left:801.80px;top:1316px;font-size:24px;letter-spacing:0.15px;">Random Forest</span><div class="a" style="left:1200.6px;top:1327.3px;width:6.9px;height:2.2px;background:#31333F"></div><span class="t" style="left:1342.40px;top:1316px;font-size:24px;letter-spacing:1.22px;">3,140</span><span class="t" style="left:1542.40px;top:1316px;font-size:24px;letter-spacing:1.22px;">4,331</span><span class="t" style="left:1742.40px;top:1316px;font-size:24px;letter-spacing:1.22px;">5,457</span><span class="t" style="left:1942.40px;top:1316px;font-size:24px;letter-spacing:1.22px;">3,742</span><span class="t" style="left:2141.40px;top:1316px;font-size:24px;letter-spacing:1.47px;">8,598</span><span class="t" style="left:2342.40px;top:1316px;font-size:24px;letter-spacing:1.22px;">5,499</span><div class="a" style="left:2521.7px;top:1305.0px;width:204.7px;height:42.2px;background:#fff;border:1.8px solid #c3c4c8;border-radius:7.5px;box-shadow:0 1px 1.5px rgba(0,0,0,0.18)"></div><span class="t" style="left:2586.60px;top:1315px;font-size:26px;color:#0e0e10;letter-spacing:0.11px;">Select</span><span class="t" style="left:801.80px;top:1364px;font-size:24px;letter-spacing:0.13px;">Fast Fourier</span><div class="a" style="left:1200.6px;top:1375.3px;width:6.9px;height:2.2px;background:#31333F"></div><span class="t" style="left:1342.40px;top:1364px;font-size:24px;letter-spacing:1.22px;">4,343</span><span class="t" style="left:1541.40px;top:1364px;font-size:24px;letter-spacing:1.47px;">7,001</span><span class="t" style="left:1742.40px;top:1364px;font-size:24px;letter-spacing:1.22px;">4,871</span><span class="t" style="left:1941.40px;top:1364px;font-size:24px;letter-spacing:1.47px;">1,554</span><span class="t" style="left:2141.40px;top:1364px;font-size:24px;letter-spacing:1.47px;">6,476</span><span class="t" style="left:2342.40px;top:1364px;font-size:24px;letter-spacing:1.22px;">5,895</span><div class="a" style="left:2521.7px;top:1352.9px;width:204.7px;height:42.2px;background:#fff;border:1.8px solid #c3c4c8;border-radius:7.5px;box-shadow:0 1px 1.5px rgba(0,0,0,0.18)"></div><span class="t" style="left:2586.60px;top:1363px;font-size:26px;color:#0e0e10;letter-spacing:0.11px;">Select</span><div class="a" style="left:330px;top:1553px;width:2230px;height:4px;border-radius:50%;box-shadow:0 0 36px 10px rgba(0,0,0,0.065)"></div></div></body></html>
